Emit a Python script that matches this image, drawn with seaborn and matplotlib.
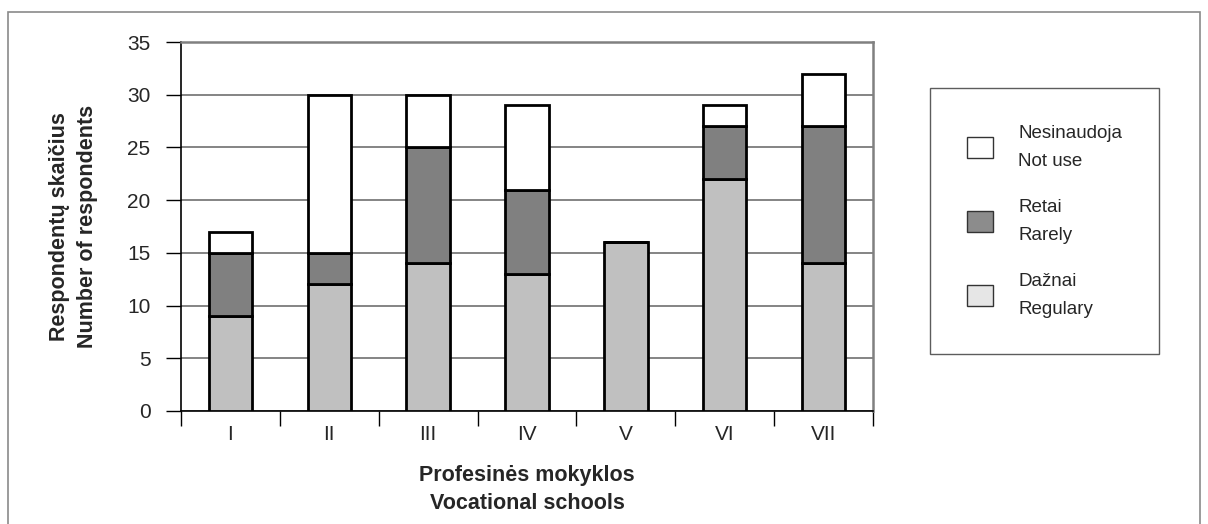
import matplotlib
matplotlib.use('Agg')
import matplotlib.pyplot as plt
import seaborn as sns
from matplotlib.patches import Patch, Rectangle

schools = ["I", "II", "III", "IV", "V", "VI", "VII"]
regular = [9, 12, 14, 13, 16, 22, 14]
rarely = [6, 3, 11, 8, 0, 5, 13]
not_use = [2, 15, 5, 8, 0, 2, 5]

sns.set_style("white")
plt.rcParams['font.family'] = ['Liberation Sans', 'DejaVu Sans']

fig = plt.figure(figsize=(12.08, 5.24), dpi=100)
ax = fig.add_axes([181 / 1208, 1 - 411 / 524, 692 / 1208, 369 / 524])

# outer frame around the whole figure
fig.patches.append(Rectangle((8 / 1208, -0.05), 1192 / 1208, 1.05 - 12 / 524,
                             transform=fig.transFigure, fill=False,
                             edgecolor="#8a8a8a", linewidth=1.2))

base2 = [a + b for a, b in zip(regular, rarely)]
layers = [
    (regular, [0] * 7, "#c0c0c0"),
    (rarely, regular, "#808080"),
    (not_use, base2, "#ffffff"),
]
for vals, bottom, col in layers:
    sns.barplot(x=schools, y=vals, bottom=bottom, order=schools, color=col,
                width=0.44, edgecolor="black", linewidth=2.0, ax=ax,
                zorder=3)

ax.set_ylim(0, 35)
ax.set_xlim(-0.5, 6.5)
ax.set_yticks(range(0, 36, 5))
ax.yaxis.grid(True, color="#707070", linewidth=1.2, zorder=0)
ax.set_axisbelow(True)

ax.set_xticks([i + 0.5 for i in range(-1, 7)], minor=True)
ax.tick_params(axis="x", which="minor", length=11, width=1.0, color="black",
               direction="out", bottom=True)
ax.tick_params(axis="x", which="major", length=0, pad=10, labelsize=15)
ax.tick_params(axis="y", length=11, width=1.0, color="black",
               direction="out", left=True, pad=11, labelsize=15)

for s in ["left", "bottom"]:
    ax.spines[s].set_color("black")
    ax.spines[s].set_linewidth(1.2)
for s in ["top", "right"]:
    ax.spines[s].set_color("#808080")
    ax.spines[s].set_linewidth(1.8)

ax.set_xlabel("Profesinės mokyklos\nVocational schools", fontsize=15.5,
              fontweight="bold", labelpad=15, linespacing=1.45)
ax.set_ylabel("Respondentų skaičius\nNumber of respondents", fontsize=15.5,
              fontweight="bold", labelpad=21, linespacing=1.45)

handles = [
    Patch(facecolor="#ffffff", edgecolor="#333333", linewidth=1.0),
    Patch(facecolor="#8c8c8c", edgecolor="#333333", linewidth=1.0),
    Patch(facecolor="#e6e6e6", edgecolor="#333333", linewidth=1.0),
]
labels = ["Nesinaudoja\nNot use", "Retai\nRarely", "Dažnai\nRegulary"]
leg = fig.legend(handles, labels, loc="upper left",
                 bbox_to_anchor=(930 / 1208, 1 - 88 / 524), fontsize=13.5,
                 frameon=True, fancybox=False, handlelength=1.4,
                 handleheight=1.4, labelspacing=1.55, borderpad=1.95,
                 handletextpad=1.35, borderaxespad=0)
leg.get_frame().set_edgecolor("#333333")
leg.get_frame().set_linewidth(1.0)
for t in leg.get_texts():
    t.set_linespacing(1.85)

fig.savefig("out.png", dpi=100)
